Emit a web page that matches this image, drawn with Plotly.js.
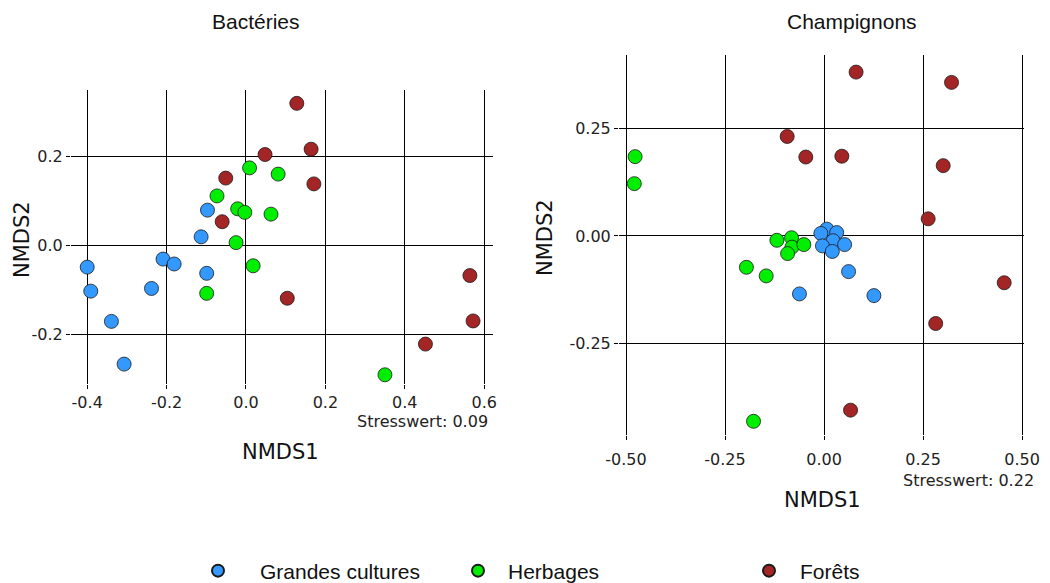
<!DOCTYPE html>
<html>
<head>
<meta charset="utf-8">
<script src="https://cdn.plot.ly/plotly-3.0.1.min.js"></script>
<style>
  html, body { margin: 0; padding: 0; background: #ffffff; }
  #chart { width: 1050px; height: 583px; }
</style>
</head>
<body>
<div id="chart"></div>
<script>
// Land-use groups and their colours
const groups = ["Grandes cultures", "Herbages", "Forêts"];
const groupColors = ["#3399FF", "#00EE00", "#A32525"];

// Bacterial communities: NMDS scores per group
const bactCulturesX = [-0.400, -0.391, -0.339, -0.307, -0.238, -0.209, -0.181, -0.113, -0.097, -0.099];
const bactCulturesY = [-0.049, -0.103, -0.171, -0.267, -0.097, -0.031, -0.042, 0.019, 0.079, -0.063];
const bactHerbagesX = [0.009, 0.081, -0.073, -0.021, -0.003, 0.063, -0.025, 0.018, -0.099, 0.350];
const bactHerbagesY = [0.174, 0.160, 0.111, 0.082, 0.074, 0.070, 0.006, -0.046, -0.108, -0.291];
const bactForetsX = [0.128, 0.164, 0.048, 0.171, -0.051, -0.060, 0.104, 0.564, 0.572, 0.452];
const bactForetsY = [0.319, 0.216, 0.204, 0.138, 0.151, 0.053, -0.119, -0.068, -0.170, -0.222];

// Fungal communities: NMDS scores per group
const fungCulturesX = [0.007, -0.008, 0.032, 0.023, -0.004, 0.052, 0.021, 0.062, -0.062, 0.126];
const fungCulturesY = [0.016, 0.006, 0.008, -0.011, -0.023, -0.020, -0.036, -0.083, -0.135, -0.139];
const fungHerbagesX = [-0.477, -0.479, -0.119, -0.082, -0.081, -0.092, -0.051, -0.196, -0.146, -0.178];
const fungHerbagesY = [0.185, 0.122, -0.010, -0.004, -0.026, -0.041, -0.020, -0.073, -0.093, -0.432];
const fungForetsX = [0.081, 0.322, -0.093, -0.046, 0.045, 0.301, 0.263, 0.455, 0.282, 0.067];
const fungForetsY = [0.382, 0.358, 0.232, 0.184, 0.186, 0.164, 0.040, -0.109, -0.204, -0.406];

// Stress values
const bactStress = "Stresswert: 0.09";
const fungStress = "Stresswert: 0.22";

// Tick labels
const bactXTicks = [-0.4, -0.2, 0.0, 0.2, 0.4, 0.6];
const bactXTickText = ["-0.4", "-0.2", "0.0", "0.2", "0.4", "0.6"];
const bactYTicks = [-0.2, 0.0, 0.2];
const bactYTickText = ["-0.2", "0.0", "0.2"];
const fungXTicks = [-0.50, -0.25, 0.00, 0.25, 0.50];
const fungXTickText = ["-0.50", "-0.25", "0.00", "0.25", "0.50"];
const fungYTicks = [-0.25, 0.00, 0.25];
const fungYTickText = ["-0.25", "0.00", "0.25"];

const W = 1050, H = 583;
const px = v => v / W;
const py = v => 1 - v / H;

const bactData = [[bactCulturesX, bactCulturesY], [bactHerbagesX, bactHerbagesY], [bactForetsX, bactForetsY]];
const fungData = [[fungCulturesX, fungCulturesY], [fungHerbagesX, fungHerbagesY], [fungForetsX, fungForetsY]];
const legendIds = ["legend", "legend2", "legend3"];

const traces = [];
groups.forEach((g, i) => {
  traces.push({
    type: "scatter", mode: "markers", name: g, legendgroup: g, legend: legendIds[i],
    x: bactData[i][0], y: bactData[i][1], xaxis: "x", yaxis: "y",
    marker: { size: 14, color: groupColors[i], line: { color: "#1a1a1a", width: 0.8 } },
    showlegend: true
  });
});
groups.forEach((g, i) => {
  traces.push({
    type: "scatter", mode: "markers", name: g, legendgroup: g,
    x: fungData[i][0], y: fungData[i][1], xaxis: "x2", yaxis: "y2",
    marker: { size: 14, color: groupColors[i], line: { color: "#1a1a1a", width: 0.8 } },
    showlegend: false
  });
});

const tickFont = { family: "DejaVu Sans", size: 16, color: "#222222" };
function axis(domain, range, vals, text, anchor, standoff) {
  return {
    domain: domain, range: range, anchor: anchor,
    tickmode: "array", tickvals: vals, ticktext: text,
    showgrid: true, gridcolor: "#000000", gridwidth: 1,
    zeroline: true, zerolinecolor: "#000000", zerolinewidth: 1,
    showline: false, ticks: "outside", ticklen: 4, tickwidth: 1, tickcolor: "#000000",
    ticklabelstandoff: standoff || 0,
    tickfont: tickFont, fixedrange: true
  };
}

// one legend per group so each entry sits at its own position
function legendAt(symbolX, gap) {
  const iw = 2 * gap - 10;
  return {
    x: px(symbolX - gap), xanchor: "left", y: py(571), yanchor: "middle",
    orientation: "h", itemwidth: iw, itemsizing: "constant",
    bgcolor: "rgba(0,0,0,0)", borderwidth: 0,
    font: { family: "Liberation Sans", size: 21, color: "#111111" }
  };
}

const titleFont = { family: "Liberation Sans", size: 21, color: "#111111" };
const axisTitleFont = { family: "DejaVu Sans", size: 21, color: "#111111" };
const stressFont = { family: "DejaVu Sans", size: 16, color: "#222222" };

const annotations = [
  { text: "Bactéries", x: px(256), y: py(22), font: titleFont },
  { text: "Champignons", x: px(852), y: py(22), font: titleFont },
  { text: "NMDS1", x: px(280), y: py(452), font: axisTitleFont },
  { text: "NMDS2", x: px(22), y: py(240), font: axisTitleFont, textangle: -90 },
  { text: "NMDS1", x: px(822), y: py(500), font: axisTitleFont },
  { text: "NMDS2", x: px(545), y: py(238), font: axisTitleFont, textangle: -90 },
  { text: bactStress, x: px(490), y: py(421), xanchor: "right", font: stressFont },
  { text: fungStress, x: px(1036), y: py(481), xanchor: "right", font: stressFont }
].map(a => Object.assign({ xref: "paper", yref: "paper", showarrow: false, xanchor: "center", yanchor: "middle" }, a));

const layout = {
  width: W, height: H,
  margin: { l: 0, r: 0, t: 0, b: 0, autoexpand: false },
  paper_bgcolor: "#ffffff", plot_bgcolor: "#ffffff",
  xaxis: axis([px(71), px(493)], [-0.4408, 0.6222], bactXTicks, bactXTickText, "y", 0),
  yaxis: axis([py(384), py(90)], [-0.3117, 0.349], bactYTicks, bactYTickText, "x", 0),
  xaxis2: axis([px(619), px(1024)], [-0.5177, 0.505], fungXTicks, fungXTickText, "y2", 6),
  yaxis2: axis([py(435), py(55)], [-0.4639, 0.4219], fungYTicks, fungYTickText, "x2", 0),
  legend: legendAt(218, 42),
  legend2: legendAt(478, 30),
  legend3: legendAt(769, 31),
  annotations: annotations,
  showlegend: true
};

Plotly.newPlot("chart", traces, layout, { displayModeBar: false, staticPlot: true });
</script>
</body>
</html>
